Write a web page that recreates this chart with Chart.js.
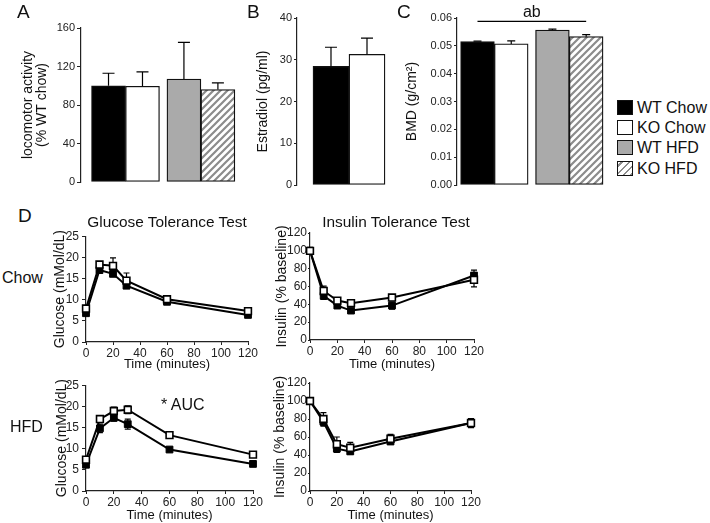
<!DOCTYPE html>
<html>
<head>
<meta charset="utf-8">
<script src="https://cdn.jsdelivr.net/npm/chart.js@4.4.1/dist/chart.umd.min.js"></script>
<style>
  html, body { margin:0; padding:0; background:#fff; overflow:hidden; }
  #fig { position:relative; width:710px; height:523px; font-family:"Liberation Sans", Arial, sans-serif; color:#111; }
  #fig canvas { position:absolute; }
  .t { position:absolute; line-height:1; white-space:nowrap; }
  .panel { font-size:19px; }
  .row { font-size:16px; }
  .ttl { font-size:15.4px; width:240px; text-align:center; }
  .leg { position:absolute; left:617px; font-size:16px; line-height:1; white-space:nowrap; }
  .leg span { display:inline-block; width:14px; height:13px; border:1px solid #111; vertical-align:-2px; margin-right:4px; }
</style>
</head>
<body>
<div id="fig">
  <canvas id="cA" width="228" height="200" style="left:17px;top:0"></canvas>
  <canvas id="cB" width="140" height="200" style="left:251px;top:0"></canvas>
  <canvas id="cC" width="210" height="200" style="left:400px;top:0"></canvas>
  <canvas id="cGC" width="212" height="146" style="left:48px;top:226px"></canvas>
  <canvas id="cIC" width="216" height="149" style="left:270px;top:223px"></canvas>
  <canvas id="cGH" width="215" height="148" style="left:50px;top:375px"></canvas>
  <canvas id="cIH" width="215" height="150" style="left:268px;top:373px"></canvas>

  <div class="t panel" style="left:17px;top:2px">A</div>
  <div class="t panel" style="left:247px;top:2px">B</div>
  <div class="t panel" style="left:397px;top:2px">C</div>
  <div class="t panel" style="left:18px;top:206px">D</div>
  <div class="t ttl" style="left:47px;top:214px">Glucose Tolerance Test</div>
  <div class="t ttl" style="left:276px;top:214px">Insulin Tolerance Test</div>
  <div class="t row" style="left:2px;top:270px">Chow</div>
  <div class="t row" style="left:10px;top:419px">HFD</div>
  <div class="t row" style="left:161px;top:397px">* AUC</div>
  <div id="legend"></div>
</div>

<script>
/* ---------- data ---------- */
const groups = ["WT Chow", "KO Chow", "WT HFD", "KO HFD"];

const locomotor    = [100, 99.5, 107, 96];
const locomotorErr = [13, 15, 38, 7];

const estradiol    = [28.4, 31.3];          // WT Chow, KO Chow
const estradiolErr = [4.6, 3.9];

const bmd    = [0.0515, 0.0507, 0.0557, 0.0533];
const bmdErr = [0.0002, 0.0011, 0.0003, 0.0007];
const bmdSigLevel = 0.0588;                 // height of the "ab" bar

const minutes = [0, 10, 20, 30, 60, 120];

const gttChowWT    = [6.8, 17.0, 16.1, 13.3, 9.5, 6.4];
const gttChowWTErr = [0.5, 0.6, 0.6, 0.5, 0.4, 0.3];
const gttChowKO    = [7.9, 18.3, 18.0, 14.5, 10.1, 7.3];
const gttChowKOErr = [0.5, 0.5, 1.9, 1.8, 0.4, 0.4];

const ittChowWT    = [100, 49.5, 38.6, 33, 38.6, 72.3];
const ittChowWTErr = [3, 4, 3, 2, 4, 6];
const ittChowKO    = [100, 55, 44.2, 41.3, 47.6, 67.5];
const ittChowKOErr = [4, 5.5, 3, 3, 3, 8];

const gttHfdWT    = [6.2, 14.8, 17.3, 15.8, 9.8, 6.4];
const gttHfdWTErr = [0.5, 1.0, 0.8, 1.2, 0.4, 0.3];
const gttHfdKO    = [7.4, 17.0, 18.9, 19.2, 13.2, 8.6];
const gttHfdKOErr = [0.5, 0.8, 0.9, 0.9, 0.4, 0.3];

const ittHfdWT    = [100, 77, 47, 44, 55, 75.5];
const ittHfdWTErr = [3, 5, 4, 3, 3, 4];
const ittHfdKO    = [100, 80, 52, 48, 58, 75.5];
const ittHfdKOErr = [3, 7, 8, 6, 5, 5];

/* ---------- styles ---------- */
const INK = "#111";
const AXIS = "#222";
const FONT = '"Liberation Sans", Arial, sans-serif';
Chart.defaults.font.family = FONT;
Chart.defaults.color = INK;

function hatch(){
  const c = document.createElement("canvas");
  c.width = c.height = 7;
  const g = c.getContext("2d");
  g.fillStyle = "#fff"; g.fillRect(0, 0, 7, 7);
  g.strokeStyle = "#8c8c8c"; g.lineWidth = 2.2;
  g.beginPath();
  g.moveTo(-1, 8); g.lineTo(8, -1);
  g.moveTo(-4.5, 4.5); g.lineTo(4.5, -4.5);
  g.moveTo(2.5, 11.5); g.lineTo(11.5, 2.5);
  g.stroke();
  return g.createPattern(c, "repeat");
}
const fills = ["#000", "#fff", "#aaa", hatch()];
const swatchCss = ["#000", "#fff", "#aaa",
  "repeating-linear-gradient(-45deg, #8c8c8c 0 2px, #fff 2px 5px)"];

/* ---------- error bars plugin (uses the chart's own y scale) ---------- */
function drawErrors(chart, o){
  const {ctx} = chart, y = chart.scales.y;
  ctx.save();
  ctx.strokeStyle = "#000";
  ctx.lineWidth = o.width || 1.2;
  chart.data.datasets.forEach((ds, di) => {
    if(!ds.errors) return;
    chart.getDatasetMeta(di).data.forEach((el, i) => {
      const v = ds.data[i].y, e = ds.errors[i];
      const top = y.getPixelForValue(v + e);
      const bot = o.upOnly ? el.y : y.getPixelForValue(v - e);
      const h = o.cap / 2;
      ctx.beginPath();
      ctx.moveTo(el.x, bot); ctx.lineTo(el.x, top);
      ctx.moveTo(el.x - h, top); ctx.lineTo(el.x + h, top);
      if(!o.upOnly){ ctx.moveTo(el.x - h, bot); ctx.lineTo(el.x + h, bot); }
      ctx.stroke();
    });
  });
  ctx.restore();
}
Chart.register({
  id: "errorBars",
  beforeDatasetsDraw(chart, a, o){ if(o.behind) drawErrors(chart, o); },
  afterDatasetsDraw(chart, a, o){ if(!o.behind) drawErrors(chart, o); }
});

/* ---------- bar panels ---------- */
const GAP = 0.22; // extra space between the chow pair and the HFD pair
const slot = i => i + (i >= 2 ? GAP : 0);

function yAxis(opts){
  return {
    min: 0, max: opts.max,
    ticks: { stepSize: opts.step, color: AXIS, font: {size: opts.tickSize || 11}, padding: opts.tickPad || 2,
             autoSkip: false, callback: opts.fmt || (v => v) },
    grid: { drawOnChartArea: false, tickLength: opts.tickLen || 4, color: AXIS, lineWidth: 1 },
    border: { color: AXIS, width: 1.2 },
    title: { display: true, text: opts.title, color: INK,
             font: {size: 14, lineHeight: opts.lh || 1.2}, padding: {top: 4, bottom: 0} },
    afterFit: s => { s.width = opts.width; }
  };
}

function barChart(id, values, errs, cfg, plugins){
  return new Chart(document.getElementById(id), {
    type: "bar",
    data: {
      datasets: [{
        data: values.map((v, i) => ({x: slot(i), y: v})),
        errors: errs,
        backgroundColor: fills.slice(0, values.length),
        borderColor: INK, borderWidth: 1.3, borderSkipped: false,
        barPercentage: 1, categoryPercentage: 1, clip: false
      }]
    },
    options: {
      responsive: false, animation: false,
      layout: { padding: cfg.pad },
      plugins: { legend: {display: false}, tooltip: {enabled: false},
                 errorBars: { upOnly: true, cap: cfg.cap, width: 1.2 } },
      scales: {
        x: { type: "linear", display: false, min: cfg.xMin, max: cfg.xMax,
             afterBuildTicks: s => { s.ticks = []; } },
        y: yAxis(cfg.y)
      }
    },
    plugins: plugins || []
  });
}

barChart("cA", locomotor, locomotorErr, {
  pad: {top: 28, bottom: 18, right: 4, left: 0}, xMin: -0.81, xMax: 3.9, cap: 12,
  y: {max: 160, step: 40, width: 64, lh: 1.0, title: ["locomotor activity", "(% WT chow)"]}
});

barChart("cB", estradiol, estradiolErr, {
  pad: {top: 18, bottom: 15, right: 2, left: 0}, xMin: -0.944, xMax: 1.611, cap: 12,
  y: {max: 40, step: 10, width: 46, tickLen: 3, title: "Estradiol (pg/ml)"}
});

const sigBar = {
  id: "sigBar",
  afterDraw(chart){
    const {ctx, scales: {x, y}} = chart;
    const x0 = x.getPixelForValue(slot(0)), x1 = x.getPixelForValue(slot(3));
    const yy = y.getPixelForValue(bmdSigLevel);
    ctx.save();
    ctx.strokeStyle = "#000"; ctx.lineWidth = 1.2;
    ctx.beginPath(); ctx.moveTo(x0, yy); ctx.lineTo(x1, yy); ctx.stroke();
    ctx.fillStyle = INK; ctx.font = "16px " + FONT;
    ctx.textAlign = "center"; ctx.textBaseline = "alphabetic";
    ctx.fillText("ab", (x0 + x1) / 2, yy - 4);
    ctx.restore();
  }
};

barChart("cC", bmd, bmdErr, {
  pad: {top: 18, bottom: 15, right: 3, left: 0}, xMin: -0.607, xMax: 3.837, cap: 8,
  y: {max: 0.06, step: 0.01, width: 57, tickLen: 3, fmt: v => v.toFixed(2), title: "BMD (g/cm²)"}
}, [sigBar]);

/* ---------- legend ---------- */
const $legend = document.getElementById("legend");
const legendTops = [100, 120, 140, 161];
groups.forEach((g, i) => {
  const d = document.createElement("div");
  d.className = "leg";
  d.style.top = legendTops[i] + "px";
  d.innerHTML = `<span style="background:${swatchCss[i]}"></span>${g}`;
  $legend.appendChild(d);
});

/* ---------- tolerance test panels ---------- */
function lineChart(id, wt, wtErr, ko, koErr, cfg){
  const pts = arr => minutes.map((m, i) => ({x: m, y: arr[i]}));
  const base = { borderColor: "#000", borderWidth: 2, tension: 0, pointStyle: "rect",
                 pointRadius: 4.8, pointBorderColor: "#000", clip: false };
  return new Chart(document.getElementById(id), {
    type: "line",
    data: {
      datasets: [
        Object.assign({}, base, { label: "WT", data: pts(wt), errors: wtErr, order: 1,
                                  pointBackgroundColor: "#000", pointBorderWidth: 1 }),
        Object.assign({}, base, { label: "KO", data: pts(ko), errors: koErr, order: 0,
                                  pointBackgroundColor: "#fff", pointBorderWidth: 1.6 })
      ]
    },
    options: {
      responsive: false, animation: false,
      layout: { padding: {top: 10, right: 12, bottom: 0, left: 0} },
      plugins: { legend: {display: false}, tooltip: {enabled: false},
                 errorBars: { behind: true, cap: 6, width: 1.2 } },
      scales: {
        x: {
          type: "linear", min: 0, max: 120,
          ticks: { stepSize: 20, color: AXIS, font: {size: 12}, padding: 1, maxRotation: 0, autoSkip: false },
          grid: { drawOnChartArea: false, tickLength: 3, color: AXIS },
          border: { color: AXIS, width: 1.2 },
          title: { display: true, text: "Time (minutes)", color: INK, font: {size: 13}, padding: 0 },
          afterFit: s => { s.height = cfg.xHeight; }
        },
        y: yAxis({max: cfg.max, step: cfg.step, width: cfg.width, title: cfg.title,
                  tickSize: 12, tickLen: cfg.tickLen, tickPad: cfg.tickPad})
      }
    }
  });
}

lineChart("cGC", gttChowWT, gttChowWTErr, gttChowKO, gttChowKOErr,
  {max: 25, step: 5, width: 38, xHeight: 30, tickLen: 4, tickPad: 3, title: "Glucose (mMol/dL)"});
lineChart("cIC", ittChowWT, ittChowWTErr, ittChowKO, ittChowKOErr,
  {max: 120, step: 20, width: 40, xHeight: 32, tickLen: 2, tickPad: 1, title: "Insulin (% baseline)"});
lineChart("cGH", gttHfdWT, gttHfdWTErr, gttHfdKO, gttHfdKOErr,
  {max: 25, step: 5, width: 36, xHeight: 32, tickLen: 4, tickPad: 3, title: "Glucose (mMol/dL)"});
lineChart("cIH", ittHfdWT, ittHfdWTErr, ittHfdKO, ittHfdKOErr,
  {max: 120, step: 20, width: 42, xHeight: 32, tickLen: 2, tickPad: 1, title: "Insulin (% baseline)"});
</script>
</body>
</html>
